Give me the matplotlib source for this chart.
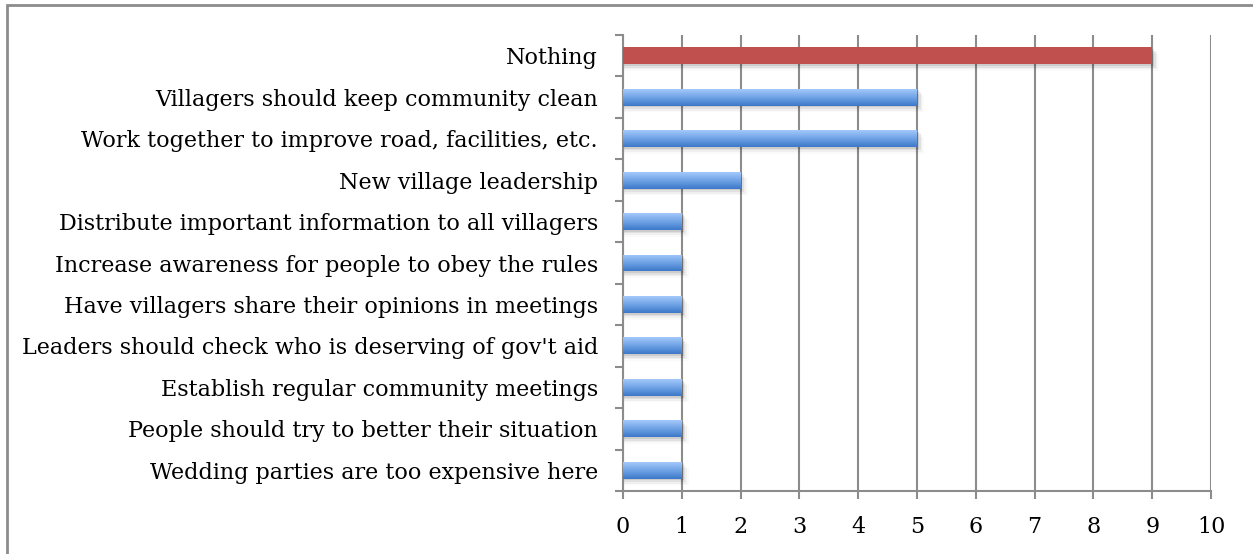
import numpy as np
import matplotlib.pyplot as plt
from matplotlib.patches import Rectangle
from matplotlib.colors import LinearSegmentedColormap

categories = [
    "Nothing",
    "Villagers should keep community clean",
    "Work together to improve road, facilities, etc.",
    "New village leadership",
    "Distribute important information to all villagers",
    "Increase awareness for people to obey the rules",
    "Have villagers share their opinions in meetings",
    "Leaders should check who is deserving of gov't aid",
    "Establish regular community meetings",
    "People should try to better their situation",
    "Wedding parties are too expensive here",
]
counts = [9, 5, 5, 2, 1, 1, 1, 1, 1, 1, 1]
highlight = [True] + [False] * 10

plt.rcParams['font.family'] = ['DejaVu Serif']

fig = plt.figure(figsize=(12.53, 5.54), dpi=100)
ax = fig.add_axes([623 / 1253, 1 - 491 / 554, 588 / 1253, 456 / 554])

# outer frame (only left and top edges fall inside the image)
fig.patches.append(Rectangle((7 / 1253, -0.1), 1.2, (554 - 5) / 554 + 0.1,
                             transform=fig.transFigure, fill=False,
                             edgecolor='#8c8c8c', linewidth=2, zorder=0))

n = len(categories)
y = np.arange(n)[::-1]
h = 0.41

blue = LinearSegmentedColormap.from_list('blue', ['#3c78c8', '#6fa3e6', '#a3c8fa'])
grad = np.linspace(0, 1, 64).reshape(-1, 1)

for yi, val, hl in zip(y, counts, highlight):
    # soft drop shadow under the bar
    for k, a in enumerate([0.09, 0.06, 0.04, 0.02]):
        off = 0.04 + 0.04 * k
        ax.barh(yi - off, val + 0.03 * (k + 1), height=h, left=0,
                color='black', alpha=a, linewidth=0, zorder=2)
    if hl:
        ax.barh(yi, val, height=h, color='#c0504d', linewidth=0, zorder=3)
    else:
        bar = ax.barh(yi, val, height=h, color='#6fa3e6', linewidth=0, zorder=3)[0]
        im = ax.imshow(grad, cmap=blue, aspect='auto', origin='lower',
                       extent=[0, val, yi - h / 2, yi + h / 2], zorder=4)
        im.set_clip_path(bar)

ax.set_xlim(0, 10)
ax.set_ylim(-0.5, n - 0.5)
ax.set_xticks(range(11))
ax.set_yticks(y)
ax.set_yticklabels(categories)
ax.set_yticks(np.arange(-0.5, n, 1.0), minor=True)

ax.tick_params(axis='y', which='major', length=0, pad=18, labelsize=16)
ax.tick_params(axis='y', which='minor', length=6, width=1.5, color='#8c8c8c')
ax.tick_params(axis='x', length=6, width=1.5, color='#8c8c8c', pad=12, labelsize=16)

ax.grid(axis='x', color='#8c8c8c', linewidth=1.5, zorder=1)
ax.set_axisbelow(True)
for s in ['top', 'right']:
    ax.spines[s].set_visible(False)
for s in ['left', 'bottom']:
    ax.spines[s].set_color('#8c8c8c')
    ax.spines[s].set_linewidth(1.5)

fig.savefig('out.png', dpi=100)
